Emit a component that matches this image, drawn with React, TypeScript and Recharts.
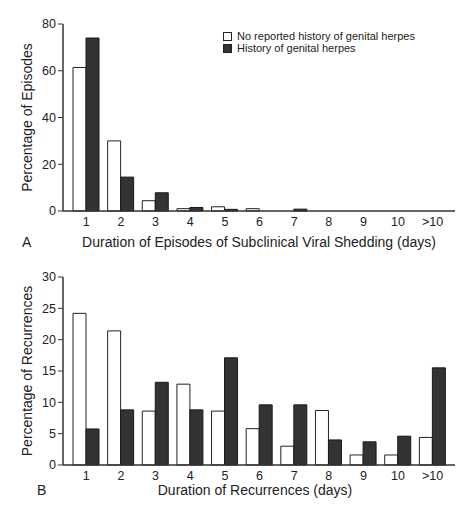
import { BarChart, Bar, XAxis, YAxis, Legend, Label } from 'recharts';

// day buckets shared by both panels
const durations = ['1', '2', '3', '4', '5', '6', '7', '8', '9', '10', '>10'];

// Panel A: subclinical shedding episodes (%)
const sheddingNoHistory = [61.4, 30, 4.4, 1, 1.8, 1, 0, 0, 0, 0, 0];
const sheddingHistory = [74, 14.5, 7.8, 1.5, 0.7, 0, 0.8, 0, 0, 0, 0];
const sheddingTicks = [0, 20, 40, 60, 80];

// Panel B: recurrences (%)
const recurNoHistory = [24.2, 21.4, 8.6, 12.9, 8.6, 5.8, 3.0, 8.7, 1.6, 1.6, 4.4];
const recurHistory = [5.75, 8.8, 13.2, 8.8, 17.1, 9.6, 9.6, 4.0, 3.7, 4.6, 15.5];
const recurTicks = [0, 5, 10, 15, 20, 25, 30];

const seriesNames = ['No reported history of genital herpes', 'History of genital herpes'];

const dataA = durations.map((d, i) => ({ day: d, none: sheddingNoHistory[i], hist: sheddingHistory[i] }));
const dataB = durations.map((d, i) => ({ day: d, none: recurNoHistory[i], hist: recurHistory[i] }));

const ink = '#222';
const axisStroke = '#333';
const darkFill = '#333';

const LegendBox = () => (
  <div style={{ fontSize: 11, color: ink, lineHeight: '12px' }}>
    {seriesNames.map((name, i) => (
      <div key={name} style={{ display: 'flex', alignItems: 'center' }}>
        <span
          style={{
            display: 'inline-block',
            width: 7,
            height: 7,
            border: `1px solid ${ink}`,
            background: i === 0 ? '#fff' : darkFill,
            marginRight: 5,
          }}
        />
        {name}
      </div>
    ))}
  </div>
);

const tickStyle = { fill: ink, fontSize: 12.5 };

export default function App() {
  return (
    <div
      style={{
        position: 'absolute',
        left: 0,
        top: 0,
        width: 474,
        height: 523,
        background: '#fff',
        fontFamily: '"Liberation Sans", Arial, sans-serif',
      }}
    >
      <BarChart
        width={474}
        height={260}
        data={dataA}
        margin={{ top: 24, right: 19, bottom: 0, left: 0 }}
        barCategoryGap={4}
        barGap={0}
      >
        <XAxis
          dataKey="day"
          height={49}
          tickLine={false}
          tickSize={6}
          tickMargin={0}
          tick={tickStyle}
          padding={{ left: 6, right: 5 }}
          axisLine={{ stroke: axisStroke, strokeWidth: 1.5 }}
        >
          <Label value="Duration of Episodes of Subclinical Viral Shedding (days)" position="insideBottom" offset={13} style={{ fill: ink, fontSize: 14 }} />
          <Label value="A" position="insideBottomLeft" offset={13} dx={-54} style={{ fill: ink, fontSize: 14 }} />
        </XAxis>
        <YAxis
          width={63}
          domain={[0, 80]}
          ticks={sheddingTicks}
          tickSize={5}
          tickMargin={2}
          tick={tickStyle}
          axisLine={{ stroke: axisStroke, strokeWidth: 1.5 }}
          tickLine={{ stroke: axisStroke }}
        >
          <Label value="Percentage of Episodes" angle={-90} position="center" dx={-4.5} style={{ fill: ink, fontSize: 14, textAnchor: 'middle' }} />
        </YAxis>
        <Legend
          layout="horizontal"
          verticalAlign="middle"
          content={() => <LegendBox />}
          wrapperStyle={{ top: 30, left: 223, width: 240 }}
        />
        <Bar dataKey="none" name={seriesNames[0]} fill="#fff" stroke={ink} strokeWidth={1} isAnimationActive={false} />
        <Bar dataKey="hist" name={seriesNames[1]} fill={darkFill} stroke="#1a1a1a" strokeWidth={1} isAnimationActive={false} />
      </BarChart>

      <BarChart
        width={474}
        height={263}
        data={dataB}
        margin={{ top: 17, right: 19, bottom: 0, left: 0 }}
        barCategoryGap={4}
        barGap={0}
      >
        <XAxis
          dataKey="day"
          height={58}
          tickLine={false}
          tickSize={6}
          tickMargin={0}
          tick={tickStyle}
          padding={{ left: 6, right: 5 }}
          axisLine={{ stroke: axisStroke, strokeWidth: 1.5 }}
        >
          <Label value="Duration of Recurrences (days)" position="insideBottom" offset={28} dx={-4} style={{ fill: ink, fontSize: 14 }} />
          <Label value="B" position="insideBottomLeft" offset={28} dx={-54} style={{ fill: ink, fontSize: 14 }} />
        </XAxis>
        <YAxis
          width={63}
          domain={[0, 30]}
          ticks={recurTicks}
          tickSize={5}
          tickMargin={2}
          tick={tickStyle}
          axisLine={{ stroke: axisStroke, strokeWidth: 1.5 }}
          tickLine={{ stroke: axisStroke }}
        >
          <Label value="Percentage of Recurrences" angle={-90} position="center" dx={-4} style={{ fill: ink, fontSize: 14, textAnchor: 'middle' }} />
        </YAxis>
        <Bar dataKey="none" name={seriesNames[0]} fill="#fff" stroke={ink} strokeWidth={1} isAnimationActive={false} />
        <Bar dataKey="hist" name={seriesNames[1]} fill={darkFill} stroke="#1a1a1a" strokeWidth={1} isAnimationActive={false} />
      </BarChart>
    </div>
  );
}
